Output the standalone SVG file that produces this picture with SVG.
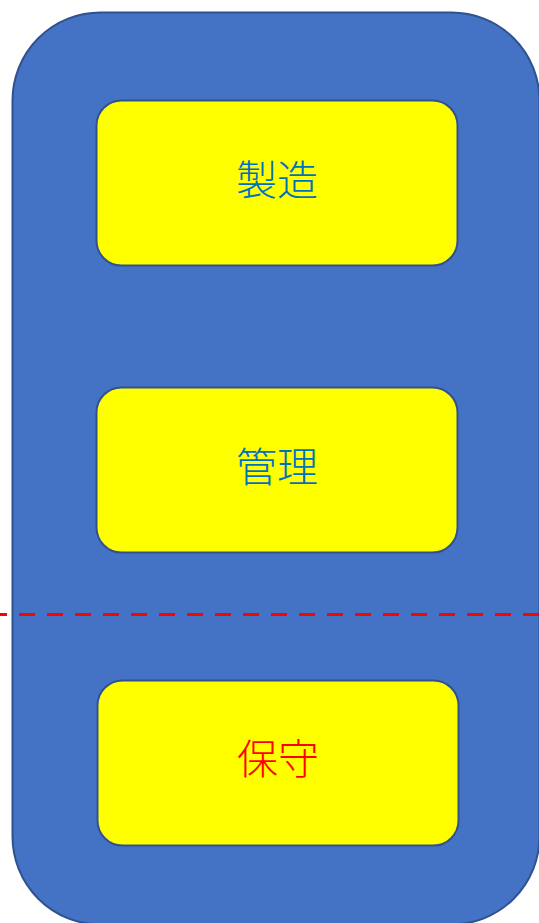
<svg xmlns="http://www.w3.org/2000/svg" width="539" height="923" viewBox="0 0 539 923">
<style>
.outer{fill:#4472C4;stroke:#2F528F;stroke-width:2}
.box{fill:#FFFF00;stroke:#2F528F;stroke-width:2}
.lbl{font-family:"Noto Sans CJK JP","Noto Sans CJK SC",sans-serif;font-size:41px;font-weight:300;text-anchor:middle;dominant-baseline:central}
.blue{fill:#0070C0}
.red{fill:#FF0000}
</style>
<rect width="539" height="923" fill="#FFFFFF"/>
<g id="container">
<rect class="outer" x="12.5" y="12.5" width="527" height="912" rx="88" ry="88"/>
</g>
<g id="node-seizo">
<rect class="box" x="96.5" y="100.5" width="361" height="165" rx="25" ry="25"/>
<text class="lbl blue" x="277" y="177">製造</text>
</g>
<g id="node-kanri">
<rect class="box" x="96.5" y="387.5" width="361" height="165" rx="25" ry="25"/>
<text class="lbl blue" x="277" y="464">管理</text>
</g>
<g id="node-hoshu">
<rect class="box" x="97.5" y="680.5" width="361" height="165" rx="25" ry="25"/>
<text class="lbl red" x="278" y="756">保守</text>
</g>
<g id="connectors">
<line x1="0" y1="614.5" x2="539" y2="614.5" stroke="#FF0000" stroke-width="3" stroke-dasharray="16 12" stroke-dashoffset="9"/>
</g>
</svg>
